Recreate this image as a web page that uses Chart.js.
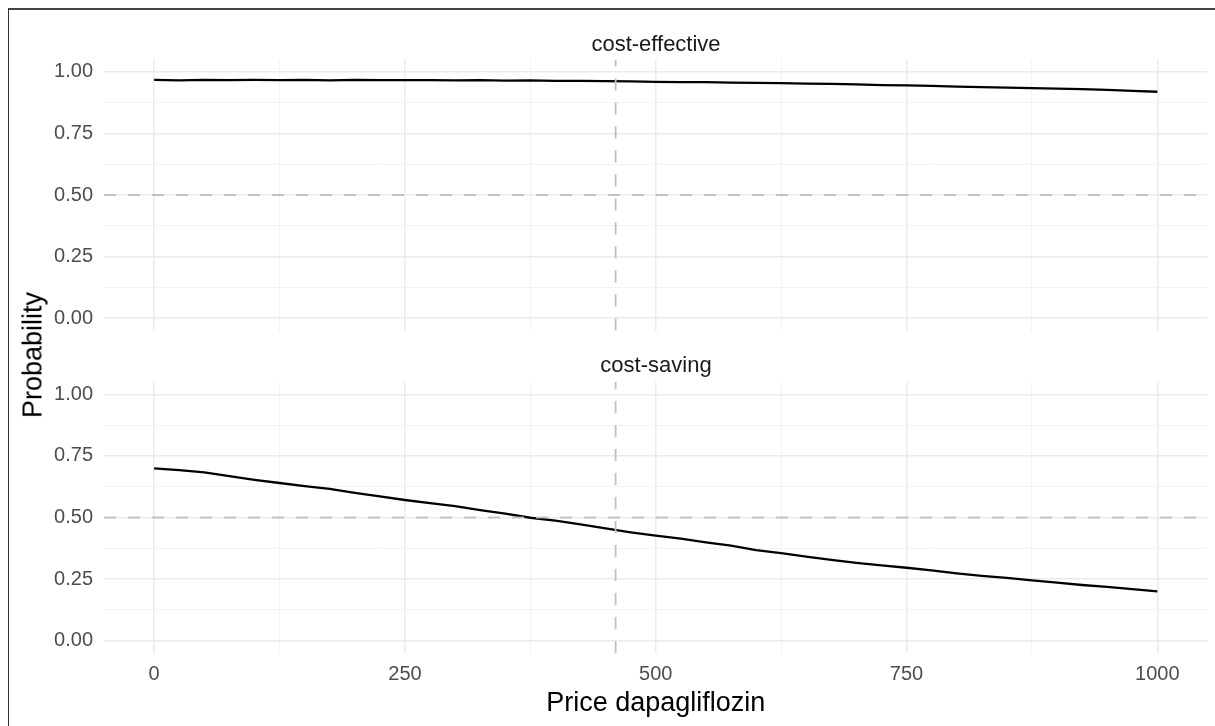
<!DOCTYPE html>
<html>
<head>
<meta charset="utf-8">
<script src="https://cdn.jsdelivr.net/npm/chart.js@4/dist/chart.umd.min.js"></script>
<style>
  html, body { margin: 0; padding: 0; background: #fff; }
  #wrap { position: relative; width: 1215px; height: 726px; overflow: hidden; background: #fff; }
  #frame { position: absolute; left: 8px; top: 8px; width: 1300px; height: 800px;
           border-left: 1px solid #333; border-top: 2px solid #444; box-sizing: border-box; }
  canvas { position: absolute; left: 0; }
  .strip { position: absolute; font: 22px "Liberation Sans", Arial, sans-serif; color: #1a1a1a;
           transform: translate(-50%, -50%); white-space: nowrap; }
  #ytitle { position: absolute; left: 33px; top: 355px; font: 27px "Liberation Sans", Arial, sans-serif;
            color: #000; transform: translate(-50%, -50%) rotate(-90deg); white-space: nowrap; }
</style>
</head>
<body>
<div id="wrap">
  <div id="frame"></div>
  <canvas id="top" width="1215" height="340" style="top:0px"></canvas>
  <canvas id="bottom" width="1215" height="386" style="top:340px"></canvas>
  <div class="strip" style="left:656px; top:44px">cost-effective</div>
  <div class="strip" style="left:656px; top:365px">cost-saving</div>
  <div id="ytitle">Probability</div>
</div>
<script>
// Price grid (x) and the two probability curves
const price = [0, 25, 50, 75, 100, 125, 150, 175, 200, 225, 250, 275, 300, 325, 350, 375, 400,
  425, 450, 475, 500, 525, 550, 575, 600, 625, 650, 675, 700, 725, 750, 775, 800, 825, 850,
  875, 900, 925, 950, 975, 1000];

const costEffective = [0.967, 0.965, 0.967, 0.966, 0.967, 0.966, 0.967, 0.965, 0.967, 0.966,
  0.966, 0.966, 0.965, 0.966, 0.964, 0.965, 0.963, 0.963, 0.962, 0.961, 0.959, 0.958, 0.958,
  0.956, 0.955, 0.954, 0.952, 0.951, 0.949, 0.946, 0.945, 0.943, 0.940, 0.938, 0.936, 0.934,
  0.932, 0.930, 0.927, 0.923, 0.919];

const costSaving = [0.699, 0.692, 0.683, 0.668, 0.653, 0.640, 0.627, 0.616, 0.600, 0.586,
  0.571, 0.558, 0.546, 0.530, 0.516, 0.499, 0.487, 0.472, 0.456, 0.440, 0.426, 0.414, 0.399,
  0.386, 0.368, 0.355, 0.341, 0.328, 0.316, 0.306, 0.296, 0.285, 0.273, 0.263, 0.255, 0.245,
  0.236, 0.226, 0.218, 0.209, 0.200];

// Reference lines
const refPrice = 460;
const refProb = 0.5;

// Axis breaks (major ones get labels, the rest are minor grid lines)
const xBreaks = [0, 125, 250, 375, 500, 625, 750, 875, 1000];
const xLabelled = [0, 250, 500, 750, 1000];
const yBreaks = [0, 0.125, 0.25, 0.375, 0.5, 0.625, 0.75, 0.875, 1];
const yLabelled = [0, 0.25, 0.5, 0.75, 1];

const xRange = [-50, 1050];
const yRange = [-0.05, 1.05];

const FONT = '"Liberation Sans", Arial, sans-serif';
Chart.defaults.font.family = FONT;

const isIn = (list, v) => list.some(b => Math.abs(b - v) < 1e-9);
const gridColor = list => ctx => (ctx.tick && isIn(list, ctx.tick.value)) ? '#EBEBEB' : '#F3F3F3';
const gridWidth = list => ctx => (ctx.tick && isIn(list, ctx.tick.value)) ? 1.5 : 1;

function makePanel(id, values, showX, pad) {
  const line = price.map((p, i) => ({ x: p, y: values[i] }));
  return new Chart(document.getElementById(id), {
    type: 'line',
    data: {
      datasets: [
        { data: [{ x: xRange[0], y: refProb }, { x: xRange[1], y: refProb }],
          borderColor: '#BEBEBE', borderWidth: 1.8, borderDash: [12, 12], pointRadius: 0, order: 0 },
        { data: [{ x: refPrice, y: yRange[0] }, { x: refPrice, y: yRange[1] }],
          borderColor: '#BEBEBE', borderWidth: 1.8, borderDash: [12, 12], pointRadius: 0, order: 0 },
        { data: line, borderColor: '#000', borderWidth: 2.3, pointRadius: 0, tension: 0, order: 1 }
      ]
    },
    options: {
      responsive: false,
      animation: false,
      devicePixelRatio: 1,
      layout: { padding: pad },
      plugins: { legend: { display: false }, tooltip: { enabled: false } },
      scales: {
        x: {
          type: 'linear', min: xRange[0], max: xRange[1],
          afterBuildTicks: axis => { axis.ticks = xBreaks.map(v => ({ value: v })); },
          afterFit: axis => {
            axis.height = showX ? 73 : 0;
            axis.paddingLeft = axis.paddingRight = 0;
          },
          border: { display: false },
          grid: { color: gridColor(xLabelled), lineWidth: gridWidth(xLabelled), drawTicks: false },
          ticks: {
            display: showX, autoSkip: false, maxRotation: 0, padding: 9,
            color: '#4D4D4D', font: { size: 20 },
            callback: v => isIn(xLabelled, v) ? String(v) : ''
          },
          title: {
            display: showX, text: 'Price dapagliflozin', color: '#000',
            font: { size: 27 }, padding: { top: 0, bottom: 6 }
          }
        },
        y: {
          type: 'linear', min: yRange[0], max: yRange[1],
          afterBuildTicks: axis => { axis.ticks = yBreaks.map(v => ({ value: v })); },
          afterFit: axis => {
            axis.width = 104;
            axis.paddingTop = axis.paddingBottom = 0;
          },
          border: { display: false },
          grid: { color: gridColor(yLabelled), lineWidth: gridWidth(yLabelled), drawTicks: false },
          ticks: {
            autoSkip: false, padding: 11, color: '#4D4D4D', font: { size: 20 },
            callback: v => isIn(yLabelled, v) ? v.toFixed(2) : ''
          }
        }
      }
    }
  });
}

makePanel('top', costEffective, false, { top: 59.5, bottom: 9.5, left: 0, right: 7.5 });
makePanel('bottom', costSaving, true, { top: 42, bottom: 0, left: 0, right: 7.5 });
</script>
</body>
</html>
